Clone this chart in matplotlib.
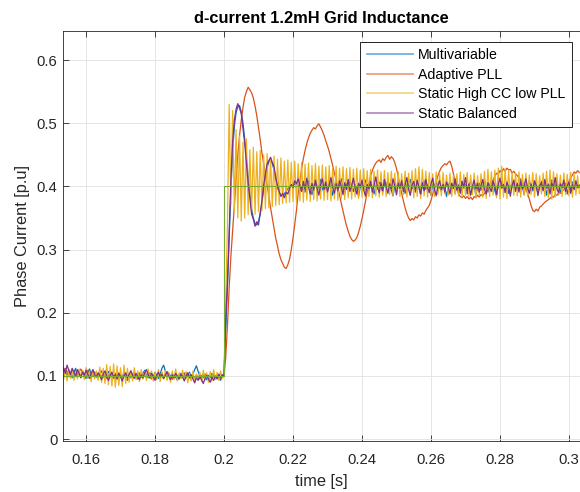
import numpy as np
import matplotlib
matplotlib.use("Agg")
import matplotlib.pyplot as plt

# ---- time base: 0.5 ms sampling starting at 0.153 s ----
T0 = 0.153
DT = 0.0005

# ---- d-axis current [p.u.] per controller ----
multivariable_pre = [
    0.104, 0.098, 0.107, 0.101, 0.110, 0.103, 0.097, 0.106, 0.112, 0.100,
    0.104, 0.099, 0.108, 0.102, 0.096, 0.105, 0.111, 0.103, 0.099, 0.106,
    0.101, 0.097, 0.104, 0.108, 0.100, 0.095, 0.103, 0.107, 0.099, 0.102,
    0.096, 0.104, 0.100, 0.094, 0.102, 0.098, 0.105, 0.099, 0.093, 0.101,
    0.097, 0.103, 0.106, 0.100, 0.095, 0.102, 0.098, 0.104, 0.109, 0.101,
    0.097, 0.105, 0.103, 0.099, 0.106, 0.101, 0.096, 0.103, 0.112, 0.117,
    0.108, 0.097, 0.104, 0.100, 0.095, 0.102, 0.098, 0.093, 0.100, 0.104,
    0.098, 0.103, 0.097, 0.101, 0.106, 0.099, 0.103, 0.110, 0.116, 0.107,
    0.100, 0.096, 0.103, 0.098, 0.094, 0.101, 0.097, 0.104, 0.099, 0.095,
    0.102, 0.098, 0.093, 0.100,
]
multivariable_post = [
    0.100, 0.175, 0.240, 0.320, 0.395, 0.455, 0.495, 0.517, 0.526, 0.528,
    0.518, 0.500, 0.475, 0.445, 0.415, 0.388, 0.364, 0.350, 0.341, 0.339,
    0.345, 0.356, 0.374, 0.396, 0.416, 0.430, 0.439, 0.442, 0.436, 0.426,
    0.412, 0.399, 0.390, 0.386, 0.385, 0.388, 0.393, 0.396, 0.400, 0.402,
    0.404, 0.403, 0.406, 0.402, 0.399,
    0.398, 0.405, 0.391, 0.402, 0.409, 0.396, 0.387, 0.401, 0.406, 0.393,
    0.400, 0.411, 0.397, 0.390, 0.403, 0.395, 0.408, 0.399, 0.386, 0.402,
    0.407, 0.394, 0.401, 0.412, 0.398, 0.389, 0.404, 0.396, 0.409, 0.400,
    0.392, 0.403, 0.397, 0.384, 0.399, 0.406, 0.395, 0.410, 0.401, 0.393,
    0.404, 0.398, 0.388, 0.402, 0.396, 0.407, 0.400, 0.391, 0.405, 0.397,
    0.410, 0.399, 0.394, 0.385, 0.401, 0.397, 0.408, 0.393, 0.403, 0.398,
    0.389, 0.404, 0.400, 0.411, 0.396, 0.402, 0.391, 0.406, 0.398, 0.387,
    0.401, 0.409, 0.395, 0.403, 0.399, 0.386, 0.404, 0.397, 0.410, 0.394,
    0.400, 0.392, 0.405, 0.398, 0.384, 0.401, 0.407, 0.396, 0.402, 0.390,
    0.406, 0.399, 0.393, 0.408, 0.397, 0.403, 0.388, 0.400, 0.409, 0.395,
    0.402, 0.386, 0.398, 0.405, 0.394, 0.401, 0.410, 0.397, 0.391, 0.404,
    0.399, 0.407, 0.393, 0.385, 0.402, 0.396, 0.408, 0.400, 0.394, 0.403,
    0.389, 0.401, 0.398, 0.406, 0.392, 0.404, 0.397, 0.411, 0.399, 0.387,
    0.403, 0.396, 0.409, 0.400, 0.393, 0.405, 0.398, 0.390, 0.402, 0.408,
    0.395, 0.401, 0.386, 0.404, 0.399, 0.410, 0.394, 0.400, 0.406, 0.397,
    0.391, 0.403, 0.398, 0.405, 0.388, 0.401, 0.396, 0.407, 0.399, 0.393,
    0.402, 0.398,
]

adaptive_pll_pre = [
    0.103, 0.108, 0.112, 0.106, 0.101, 0.105, 0.110, 0.104, 0.099, 0.103,
    0.107, 0.111, 0.105, 0.100, 0.104, 0.109, 0.103, 0.098, 0.102, 0.106,
    0.101, 0.097, 0.103, 0.099, 0.104, 0.100, 0.096, 0.102, 0.098, 0.103,
    0.099, 0.095, 0.101, 0.105, 0.100, 0.096, 0.102, 0.098, 0.094, 0.100,
    0.104, 0.099, 0.103, 0.097, 0.101, 0.105, 0.100, 0.096, 0.102, 0.098,
    0.103, 0.099, 0.095, 0.101, 0.097, 0.102, 0.098, 0.104, 0.100, 0.096,
    0.101, 0.097, 0.103, 0.099, 0.095, 0.100, 0.104, 0.098, 0.102, 0.097,
    0.101, 0.105, 0.099, 0.103, 0.098, 0.094, 0.100, 0.096, 0.102, 0.098,
    0.095, 0.101, 0.097, 0.103, 0.099, 0.094, 0.100, 0.097, 0.102, 0.098,
    0.096, 0.101, 0.097, 0.100,
]
adaptive_pll_post = [
    0.100, 0.130, 0.180, 0.240, 0.290, 0.330, 0.370, 0.410, 0.450, 0.480,
    0.505, 0.525, 0.541, 0.550, 0.557, 0.553, 0.548, 0.540, 0.527, 0.512,
    0.493, 0.474, 0.453, 0.436, 0.418, 0.401, 0.385, 0.366, 0.350, 0.334,
    0.318, 0.306, 0.293, 0.284, 0.278, 0.272, 0.270, 0.276, 0.285, 0.300,
    0.318, 0.340, 0.362, 0.389, 0.409, 0.428, 0.444, 0.457, 0.468, 0.477,
    0.484, 0.489, 0.493, 0.491, 0.496, 0.499, 0.494, 0.488, 0.481, 0.472,
    0.464, 0.455, 0.444, 0.433, 0.421, 0.410, 0.398, 0.386, 0.373, 0.361,
    0.349, 0.338, 0.329, 0.321, 0.316, 0.313, 0.315, 0.319, 0.327, 0.337,
    0.349, 0.362, 0.376, 0.391, 0.404, 0.416, 0.425, 0.432, 0.437, 0.440,
    0.442, 0.438, 0.444, 0.441, 0.446, 0.449, 0.443, 0.447, 0.444, 0.438,
    0.428, 0.415, 0.401, 0.389, 0.377, 0.366, 0.357, 0.350, 0.346,
    0.349, 0.347, 0.352, 0.350, 0.355, 0.353, 0.358, 0.356, 0.362, 0.366,
    0.370, 0.378, 0.388, 0.398, 0.408, 0.417, 0.424, 0.430, 0.433, 0.436,
    0.434, 0.438, 0.440, 0.432, 0.420, 0.407, 0.396, 0.388, 0.384, 0.382,
    0.385, 0.381, 0.384, 0.380, 0.383, 0.379, 0.384, 0.382, 0.386, 0.383,
    0.387, 0.385, 0.389, 0.392, 0.396, 0.401, 0.405, 0.410, 0.416, 0.421,
    0.419, 0.425, 0.422, 0.428, 0.424, 0.429, 0.426, 0.427, 0.421, 0.424,
    0.420, 0.417, 0.414, 0.411, 0.407, 0.403, 0.397, 0.389, 0.380, 0.370,
    0.362, 0.360, 0.364, 0.361, 0.367, 0.369, 0.372, 0.375, 0.377, 0.379,
    0.381, 0.384, 0.383, 0.387, 0.386, 0.390, 0.389, 0.393, 0.395, 0.398,
    0.402, 0.408, 0.414, 0.418, 0.423, 0.421, 0.425, 0.422,
]

static_high_cc_pre = [
    0.106, 0.094, 0.110, 0.092, 0.108, 0.096, 0.112, 0.093, 0.107, 0.095,
    0.111, 0.097, 0.109, 0.094, 0.113, 0.096, 0.106, 0.091, 0.110, 0.095,
    0.108, 0.093, 0.114, 0.090, 0.112, 0.088, 0.118, 0.086, 0.115, 0.084,
    0.119, 0.082, 0.116, 0.085, 0.113, 0.083, 0.117, 0.088, 0.112, 0.090,
    0.109, 0.092, 0.113, 0.094, 0.108, 0.091, 0.110, 0.095, 0.107, 0.093,
    0.111, 0.096, 0.108, 0.092, 0.106, 0.094, 0.110, 0.091, 0.107, 0.095,
    0.109, 0.093, 0.106, 0.090, 0.108, 0.094, 0.111, 0.092, 0.105, 0.096,
    0.109, 0.093, 0.107, 0.089, 0.104, 0.092, 0.108, 0.090, 0.103, 0.094,
    0.106, 0.091, 0.109, 0.093, 0.105, 0.090, 0.107, 0.092, 0.110, 0.094,
    0.106, 0.093, 0.108, 0.096,
]
static_high_cc_post = [
    0.100, 0.220, 0.340, 0.530, 0.370, 0.520, 0.360, 0.490, 0.350, 0.480,
    0.345, 0.470, 0.350, 0.475, 0.355, 0.458, 0.358, 0.462, 0.356, 0.455,
    0.360, 0.457, 0.362, 0.450, 0.365, 0.452, 0.366, 0.446, 0.368, 0.448,
    0.370, 0.443, 0.371, 0.445, 0.373, 0.440, 0.374, 0.442, 0.375, 0.438,
    0.376, 0.440, 0.374, 0.436, 0.377, 0.438, 0.375, 0.435, 0.378, 0.437,
    0.376, 0.433, 0.379, 0.436, 0.377, 0.432, 0.380, 0.434, 0.378, 0.431,
    0.379, 0.433, 0.377, 0.430, 0.380, 0.432, 0.378, 0.429, 0.381, 0.431,
    0.379, 0.428, 0.382, 0.430, 0.380, 0.427, 0.383, 0.429, 0.381, 0.426,
    0.383, 0.428, 0.381, 0.425, 0.384, 0.427, 0.382, 0.424, 0.385, 0.426,
    0.383, 0.423, 0.386, 0.425, 0.384, 0.422, 0.387, 0.424, 0.385, 0.421,
    0.386, 0.423, 0.384, 0.420, 0.387, 0.424, 0.383, 0.421, 0.386, 0.425,
    0.382, 0.428, 0.384, 0.431, 0.381, 0.427, 0.385, 0.424, 0.383, 0.422,
    0.386, 0.420, 0.384, 0.423, 0.387, 0.419, 0.385, 0.422, 0.388, 0.418,
    0.386, 0.421, 0.384, 0.417, 0.387, 0.420, 0.385, 0.423, 0.383, 0.419,
    0.386, 0.422, 0.384, 0.418, 0.387, 0.421, 0.382, 0.417, 0.385, 0.420,
    0.383, 0.424, 0.381, 0.427, 0.384, 0.423, 0.386, 0.426, 0.382, 0.429,
    0.380, 0.432, 0.383, 0.428, 0.381, 0.425, 0.384, 0.422, 0.386, 0.420,
    0.385, 0.423, 0.383, 0.419, 0.386, 0.421, 0.384, 0.418, 0.387, 0.422,
    0.383, 0.420, 0.385, 0.417, 0.388, 0.421, 0.384, 0.424, 0.382, 0.426,
    0.380, 0.423, 0.383, 0.420, 0.386, 0.418, 0.384, 0.421, 0.387, 0.419,
    0.385, 0.422, 0.383, 0.420, 0.386, 0.417, 0.389,
]

static_balanced_pre = [
    0.108, 0.113, 0.104, 0.117, 0.109, 0.102, 0.112, 0.106, 0.099, 0.110,
    0.104, 0.097, 0.106, 0.101, 0.109, 0.103, 0.096, 0.104, 0.110, 0.102,
    0.098, 0.105, 0.100, 0.094, 0.103, 0.108, 0.099, 0.093, 0.101, 0.106,
    0.098, 0.102, 0.095, 0.104, 0.099, 0.092, 0.100, 0.105, 0.097, 0.103,
    0.108, 0.101, 0.096, 0.104, 0.099, 0.094, 0.102, 0.097, 0.105, 0.110,
    0.102, 0.097, 0.104, 0.099, 0.093, 0.101, 0.106, 0.098, 0.103, 0.096,
    0.101, 0.107, 0.099, 0.094, 0.102, 0.097, 0.104, 0.100, 0.095, 0.103,
    0.098, 0.092, 0.100, 0.105, 0.097, 0.102, 0.095, 0.089, 0.097, 0.093,
    0.100, 0.094, 0.088, 0.096, 0.101, 0.095, 0.090, 0.098, 0.093, 0.100,
    0.095, 0.103, 0.097, 0.102,
]
static_balanced_post = [
    0.100, 0.190, 0.250, 0.330, 0.410, 0.470, 0.505, 0.522, 0.531, 0.524,
    0.515, 0.492, 0.468, 0.436, 0.405, 0.380, 0.356, 0.348, 0.337, 0.344,
    0.339, 0.358, 0.378, 0.402, 0.420, 0.436, 0.441, 0.446, 0.438, 0.431,
    0.414, 0.401, 0.392, 0.384, 0.389, 0.382, 0.391, 0.388, 0.397, 0.403,
    0.398, 0.409, 0.404, 0.412, 0.401,
    0.392, 0.408, 0.396, 0.413, 0.399, 0.388, 0.405, 0.394, 0.410, 0.397,
    0.386, 0.403, 0.412, 0.395, 0.407, 0.391, 0.402, 0.414, 0.398, 0.389,
    0.404, 0.393, 0.409, 0.400, 0.387, 0.406, 0.395, 0.411, 0.392, 0.401,
    0.413, 0.397, 0.388, 0.405, 0.399, 0.410, 0.394, 0.385, 0.403, 0.396,
    0.408, 0.391, 0.402, 0.415, 0.398, 0.390, 0.406, 0.393, 0.411, 0.400,
    0.389, 0.404, 0.396, 0.412, 0.401, 0.387, 0.405, 0.397, 0.409, 0.392,
    0.403, 0.414, 0.395, 0.386, 0.402, 0.408, 0.394, 0.410, 0.399, 0.388,
    0.406, 0.393, 0.411, 0.398, 0.390, 0.404, 0.413, 0.396, 0.385, 0.401,
    0.409, 0.395, 0.403, 0.391, 0.407, 0.400, 0.388, 0.405, 0.397, 0.412,
    0.394, 0.402, 0.389, 0.408, 0.399, 0.414, 0.393, 0.404, 0.386, 0.400,
    0.410, 0.396, 0.405, 0.391, 0.401, 0.411, 0.395, 0.388, 0.406, 0.398,
    0.392, 0.409, 0.400, 0.387, 0.404, 0.413, 0.397, 0.403, 0.390, 0.407,
    0.399, 0.385, 0.402, 0.410, 0.394, 0.405, 0.391, 0.408, 0.396, 0.401,
    0.412, 0.398, 0.389, 0.404, 0.395, 0.409, 0.402, 0.386, 0.400, 0.406,
    0.393, 0.411, 0.397, 0.403, 0.388, 0.405, 0.399, 0.414, 0.396, 0.390,
    0.404, 0.398, 0.410, 0.392, 0.401, 0.407, 0.389, 0.403, 0.395, 0.409,
    0.398, 0.402,
]

# current reference (step at t = 0.2 s)
ref_t = [0.153, 0.2, 0.2, 0.3035]
ref_i = [0.1, 0.1, 0.4, 0.4]

series_names = ["Multivariable", "Adaptive PLL", "Static High CC low PLL", "Static Balanced"]
series_colors = ["#0072BD", "#D95319", "#EDB120", "#7E2F8E"]
series_values = [
    multivariable_pre + multivariable_post,
    adaptive_pll_pre + adaptive_pll_post,
    static_high_cc_pre + static_high_cc_post,
    static_balanced_pre + static_balanced_post,
]
ref_color = "#77AC30"

x_ticks = [0.16, 0.18, 0.2, 0.22, 0.24, 0.26, 0.28, 0.3]
x_tick_labels = ["0.16", "0.18", "0.2", "0.22", "0.24", "0.26", "0.28", "0.3"]
y_ticks = [0, 0.1, 0.2, 0.3, 0.4, 0.5, 0.6]
y_tick_labels = ["0", "0.1", "0.2", "0.3", "0.4", "0.5", "0.6"]

plt.rcParams["font.family"] = ["Liberation Sans", "DejaVu Sans"]
ink = "#262626"

W, H = 580, 492
fig = plt.figure(figsize=(W / 100, H / 100), dpi=100)
ax = fig.add_axes([63 / W, 51 / H, 1 - 63 / W, 410 / H])

for name, col, vals in zip(series_names, series_colors, series_values):
    t = T0 + DT * np.arange(len(vals))
    ax.plot(t, vals, color=col, lw=0.9, label=name)
ax.plot(ref_t, ref_i, color=ref_color, lw=0.8)

ax.set_xlim(0.15333, 0.30319)
ax.set_ylim(-0.003, 0.646)
ax.set_xticks(x_ticks)
ax.set_xticklabels(x_tick_labels)
ax.set_yticks(y_ticks)
ax.set_yticklabels(y_tick_labels)

ax.grid(True, color="#e1e1e1", lw=0.6)
ax.set_axisbelow(True)
ax.tick_params(direction="in", length=4, width=0.6, colors=ink,
               labelsize=10.7, top=True, right=False)
ax.tick_params(axis="x", pad=9)
ax.tick_params(axis="y", pad=4)
for side in ("left", "bottom", "top"):
    ax.spines[side].set_color(ink)
    ax.spines[side].set_linewidth(0.6)
ax.spines["right"].set_visible(False)

ax.set_title("d-current 1.2mH Grid Inductance", fontsize=11.8,
             fontweight="bold", color="black", pad=6)
ax.set_xlabel("time [s]", fontsize=11.8, color=ink, labelpad=5)
ax.set_ylabel("Phase Current [p.u]", fontsize=11.8, color=ink, labelpad=5)

leg = ax.legend(loc="upper right", bbox_to_anchor=(572 / W, 1 - 42 / H),
                bbox_transform=fig.transFigure, borderaxespad=0,
                fontsize=10.2, handlelength=3.3, handletextpad=0.35,
                labelspacing=0.38, borderpad=0.45, fancybox=False,
                framealpha=1, edgecolor="black")
leg.get_frame().set_linewidth(0.6)
for line in leg.get_lines():
    line.set_linewidth(1.3)
    line.set_alpha(0.55)
for txt in leg.get_texts():
    txt.set_color("black")

fig.savefig("out.png", dpi=100, facecolor="white")
